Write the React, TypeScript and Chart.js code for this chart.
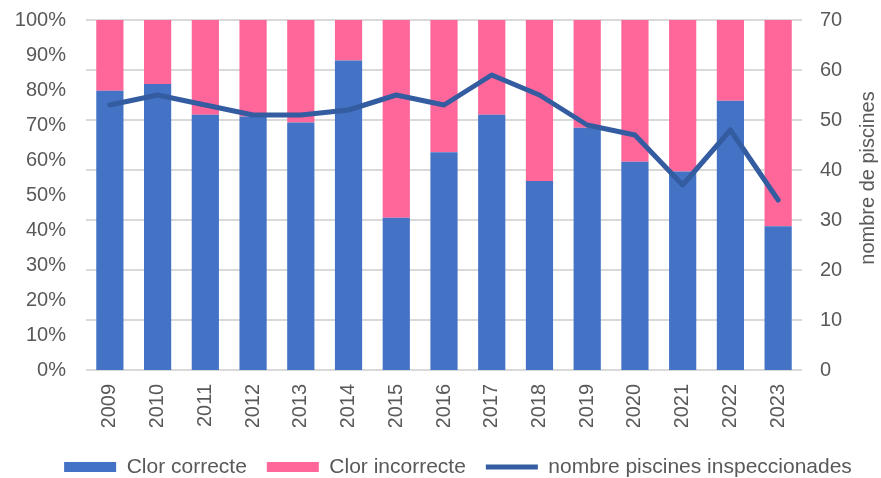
import React, { useEffect, useRef } from "react";
import { Chart, registerables } from "chart.js";

Chart.register(...registerables);

const years = ["2009","2010","2011","2012","2013","2014","2015","2016","2017","2018","2019","2020","2021","2022","2023"];
const correctPct = [79.8, 81.7, 72.9, 72.4, 70.7, 88.4, 43.5, 62.2, 72.9, 54.0, 69.2, 59.5, 56.7, 76.9, 41.1];
const incorrectPct = [20.2, 18.3, 27.1, 27.6, 29.3, 11.6, 56.5, 37.8, 27.1, 46.0, 30.8, 40.5, 43.3, 23.1, 58.9];
const poolsInspected = [53, 55, 53, 51, 51, 52, 55, 53, 59, 55, 49, 47, 37, 48, 34];
const pctTicks = [0, 10, 20, 30, 40, 50, 60, 70, 80, 90, 100];

const FONT = "'Liberation Sans', Arial, sans-serif";
const TEXT = "#595959";

const rightTitlePlugin = {
  id: "rightTitle",
  afterDraw(chart: any) {
    const ctx = chart.ctx;
    ctx.save();
    ctx.font = `20px ${FONT}`;
    ctx.fillStyle = TEXT;
    ctx.textAlign = "center";
    ctx.textBaseline = "middle";
    ctx.translate(868, 178);
    ctx.rotate(-Math.PI / 2);
    ctx.fillText("nombre de piscines", 0, 0);
    ctx.restore();
  },
};

const legendShiftPlugin = {
  id: "legendShift",
  afterLayout(chart: any) {
    const lg = chart.legend;
    if (!lg) return;
    const dx = 17.5;
    const dy = 9.5;
    lg.left += dx;
    lg.right += dx;
    lg.top += dy;
    lg.bottom += dy;
  },
};

export default function App() {
  const ref = useRef<HTMLCanvasElement | null>(null);
  useEffect(() => {
    if (!ref.current) return;
    const chart = new Chart(ref.current, {
      type: "bar",
      data: {
        labels: years,
        datasets: [
          { type: "bar", label: "Clor correcte", data: correctPct, backgroundColor: "#4472C4", borderWidth: 0, yAxisID: "y", order: 1, pointStyle: "rect", barPercentage: 0.57, categoryPercentage: 1 } as any,
          { type: "bar", label: "Clor incorrecte", data: incorrectPct, backgroundColor: "#FF6699", borderWidth: 0, yAxisID: "y", order: 1, pointStyle: "rect", barPercentage: 0.57, categoryPercentage: 1 } as any,
          { type: "line", label: "nombre piscines inspeccionades", data: poolsInspected, borderColor: "#345CA0", backgroundColor: "#345CA0", borderWidth: 5, borderCapStyle: "round", borderJoinStyle: "round", pointRadius: 0, pointHoverRadius: 0, pointStyle: "line", tension: 0, yAxisID: "y1", order: 0 } as any,
        ],
      },
      options: {
        animation: false,
        responsive: true,
        maintainAspectRatio: false,
        layout: { padding: { top: 20, bottom: 0, left: 0, right: 0 } },
        scales: {
          x: {
            stacked: true,
            grid: { display: false },
            border: { display: false },
            ticks: { minRotation: 90, maxRotation: 90, autoSkip: false, padding: 6, color: TEXT, font: { family: FONT, size: 20 } },
            afterFit(scale: any) { scale.height = 57; },
          },
          y: {
            stacked: true, position: "left", min: 0, max: 100,
            grid: { display: false }, border: { display: false },
            afterBuildTicks(scale: any) { scale.ticks = pctTicks.map((v) => ({ value: v })); },
            ticks: { padding: 12, color: TEXT, font: { family: FONT, size: 20 }, callback: (v: any) => `${v}%` },
            afterFit(scale: any) { scale.width = 86; scale.paddingTop = 0; scale.paddingBottom = 0; },
          },
          y1: {
            position: "right", min: 0, max: 70,
            grid: { color: "#D9D9D9", lineWidth: 2, drawTicks: false }, border: { display: false },
            ticks: { stepSize: 10, padding: 18, color: TEXT, font: { family: FONT, size: 20 } },
            afterFit(scale: any) { scale.width = 79; scale.paddingTop = 0; scale.paddingBottom = 0; },
          },
        },
        plugins: {
          tooltip: { enabled: false },
          legend: {
            position: "bottom",
            labels: {
              usePointStyle: true, pointStyleWidth: 52, boxHeight: 10, padding: 20, color: TEXT,
              font: { family: FONT, size: 21 },
              sort: (a: any, b: any) => a.datasetIndex - b.datasetIndex,
            },
          },
        },
      },
      plugins: [rightTitlePlugin, legendShiftPlugin],
    });
    return () => chart.destroy();
  }, []);
  return (
    <div style={{ position: "fixed", left: 0, top: 0, width: 881, height: 478, background: "#fff" }}>
      <canvas ref={ref} />
    </div>
  );
}
